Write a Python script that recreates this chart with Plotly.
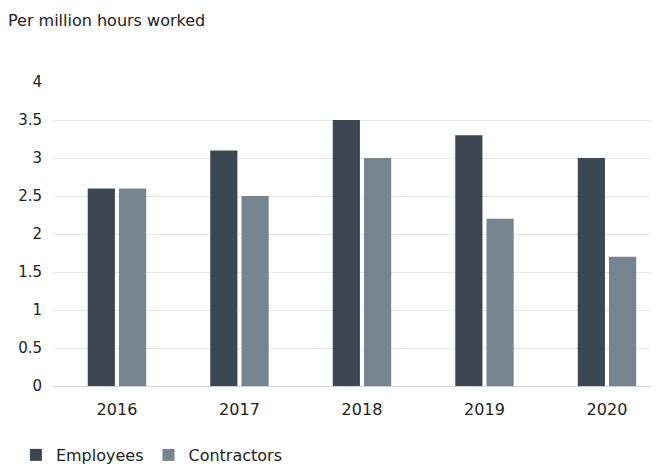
import plotly.graph_objects as go

years = ["2016", "2017", "2018", "2019", "2020"]
employees = [2.6, 3.1, 3.5, 3.3, 3.0]
contractors = [2.6, 2.5, 3.0, 2.2, 1.7]
y_ticks = [0, 0.5, 1, 1.5, 2, 2.5, 3, 3.5, 4]
y_tick_text = ["0", "0.5", "1", "1.5", "2", "2.5", "3", "3.5", "4"]

FONT = "DejaVu Sans, Arial, sans-serif"
TXT = "#222222"

fig = go.Figure()
fig.add_trace(go.Bar(name="Employees", x=years, y=employees,
                     marker=dict(color="#3d4751", line=dict(width=0))))
fig.add_trace(go.Bar(name="Contractors", x=years, y=contractors,
                     marker=dict(color="#76848f", line=dict(width=0))))

fig.update_layout(
    width=659, height=468,
    margin=dict(l=45, r=0, t=74, b=90),
    paper_bgcolor="white", plot_bgcolor="white",
    font=dict(family=FONT, size=15, color=TXT),
    barmode="group", bargap=0.49, bargroupgap=0.13,
    showlegend=True,
    legend=dict(orientation="h", xref="container", yref="container",
                x=0.012, y=1 - 447 / 468, xanchor="left", yanchor="middle",
                font=dict(family=FONT, size=16, color=TXT),
                itemwidth=30, tracegroupgap=0, traceorder="normal"),
    title=dict(text="Per million hours worked", xref="container", yref="container",
               x=0.0, y=1 - 7 / 468, xanchor="left", yanchor="top",
               pad=dict(t=0, l=0, r=0, b=0),
               font=dict(family=FONT, size=16, color=TXT)),
)
fig.update_xaxes(type="category", range=[-0.522, 4.49], showgrid=False,
                 showline=False, ticks="", ticklabelstandoff=12,
                 tickfont=dict(family=FONT, size=16, color=TXT))
fig.update_yaxes(range=[0, 4], tickvals=y_ticks, ticktext=y_tick_text,
                 showgrid=True, gridcolor="#e8e8e8", gridwidth=1,
                 zeroline=True, zerolinecolor="#d4d4d4", zerolinewidth=1,
                 showline=False, ticks="", ticklabelstandoff=10,
                 tickfont=dict(family=FONT, size=15, color=TXT))

fig.write_html("out.html")
